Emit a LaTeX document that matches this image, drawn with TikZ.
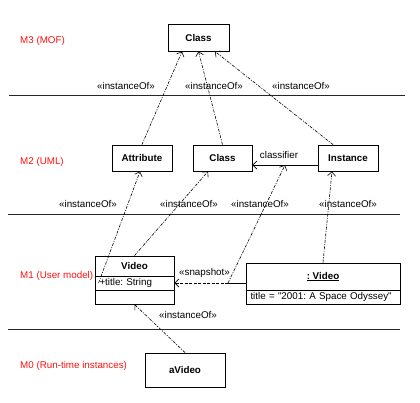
\documentclass[tikz,border=0pt]{standalone}
\usepackage{fontspec}
\setmainfont{Liberation Sans}
\usetikzlibrary{arrows.meta}
\frenchspacing
\definecolor{layercolor}{HTML}{FF1010}
\colorlet{linecolor}{black!85}
\newcommand{\umlfont}{\fontsize{9.8}{11.5}\selectfont}
\tikzstyle{umlbox} = [
    draw,
    rectangle,
    line width=0.9pt,
    font=\umlfont\bfseries,
    inner sep=2pt
    ]
\tikzstyle{slotbox} = [
    draw,
    rectangle,
    line width=0.9pt,
    font=\umlfont,
    align=left,
    inner xsep=4.5pt,
    inner ysep=0pt
    ]
\tikzstyle{layertitle} = [
    text=layercolor,
    font=\umlfont,
    anchor=west,
    inner sep=0pt
    ]
\tikzstyle{stereo} = [font=\umlfont, inner sep=0pt]
\tikzstyle{layerline} = [draw=linecolor, line width=0.8pt]
\tikzstyle{instanceof} = [
    draw,
    line width=0.6pt,
    dash pattern=on 3pt off 1.3pt on 1pt off 1.3pt,
    -{Straight Barb[length=4pt,width=8pt]}
    ]
\tikzstyle{link} = [draw, line width=0.7pt, -{Straight Barb[length=4pt,width=8pt]}]

\begin{document}
\begin{tikzpicture}[x=1pt,y=-1pt]
\useasboundingbox (0,0) rectangle (420,402);

% layers
\draw[layerline] (9,95.5) -- (405,95.5);
\draw[layerline] (8,214) -- (400,214);
\draw[layerline] (8,329) -- (400,329);
\node[layertitle] (m3) at (20,41) {M3 (MOF)};
\node[layertitle] (m2) at (20,162) {M2 (UML)};
\node[layertitle] (m1) at (20,276) {M1 (User model)};
\node[layertitle] (m0) at (20,366) {M0 (Run-time instances)};

\node[umlbox, minimum width=61pt, minimum height=27pt] (mofclass) at (198.5,37.5) {Class};
\node[umlbox, minimum width=60pt, minimum height=26pt] (attribute) at (142,158) {Attribute};
\node[umlbox, minimum width=59pt, minimum height=26pt] (umlclass) at (222.5,158) {Class};
\node[umlbox, minimum width=60pt, minimum height=26pt] (instance) at (348,158) {Instance};

\node[umlbox, minimum width=79pt, minimum height=20pt] (videoname) at (134.5,266) {Video};
\node[slotbox, text width=70pt, minimum height=14pt] (videoattr) at (134.5,283) {+title: String};
\node[slotbox, text width=70pt, minimum height=14pt] (videoops) at (134.5,297) {};
\node[umlbox, minimum width=154pt, minimum height=27pt] (objname) at (323,276.5) {\underline{: Video}};
\node[slotbox, text width=145pt, minimum height=14pt] (objslot) at (323,297) {title = \textquotedbl 2001: A Space Odyssey\textquotedbl};

\node[umlbox, minimum width=80pt, minimum height=34pt] (avideo) at (185,370) {aVideo};

\coordinate (classifier) at (285,165);
\coordinate (snapshot) at (228,283);

\draw[link] (instance.west |- classifier) -- (umlclass.east |- classifier);
\draw[line width=0.7pt] (objname.west |- snapshot) -- (snapshot);
\draw[link, dash pattern=on 3pt off 1.5pt] (snapshot) -- (videoattr.east);

\draw[instanceof] (attribute.north) -- ([xshift=-16.5pt]mofclass.south);
\draw[instanceof] (umlclass.north) -- (mofclass.south);
\draw[instanceof] ([xshift=-15pt]instance.north) -- ([xshift=16.5pt]mofclass.south);
\draw[instanceof] ([xshift=4pt]videoattr.west) -- ([xshift=-2pt]attribute.south);
\draw[instanceof] (videoname.north) -- ([xshift=-14.5pt]umlclass.south);
\draw[instanceof] (snapshot) -- (classifier);
\draw[instanceof] (objname.north) -- ([xshift=-16pt]instance.south);
\draw[instanceof] (avideo.north) -- (videoops.south);

\node[stereo] (io31) at (126,86) {«instanceOf»};
\node[stereo] (io32) at (214,86) {«instanceOf»};
\node[stereo] (io33) at (301,86) {«instanceOf»};
\node[stereo] (io21) at (88,204) {«instanceOf»};
\node[stereo] (io22) at (189,204) {«instanceOf»};
\node[stereo] (io23) at (260,204) {«instanceOf»};
\node[stereo] (io24) at (348,204) {«instanceOf»};
\node[stereo] (io11) at (188,315) {«instanceOf»};
\node[stereo] (cf) at (279,155) {classifier};
\node[stereo] (snap) at (204.5,273) {«snapshot»};
\end{tikzpicture}
\end{document}
